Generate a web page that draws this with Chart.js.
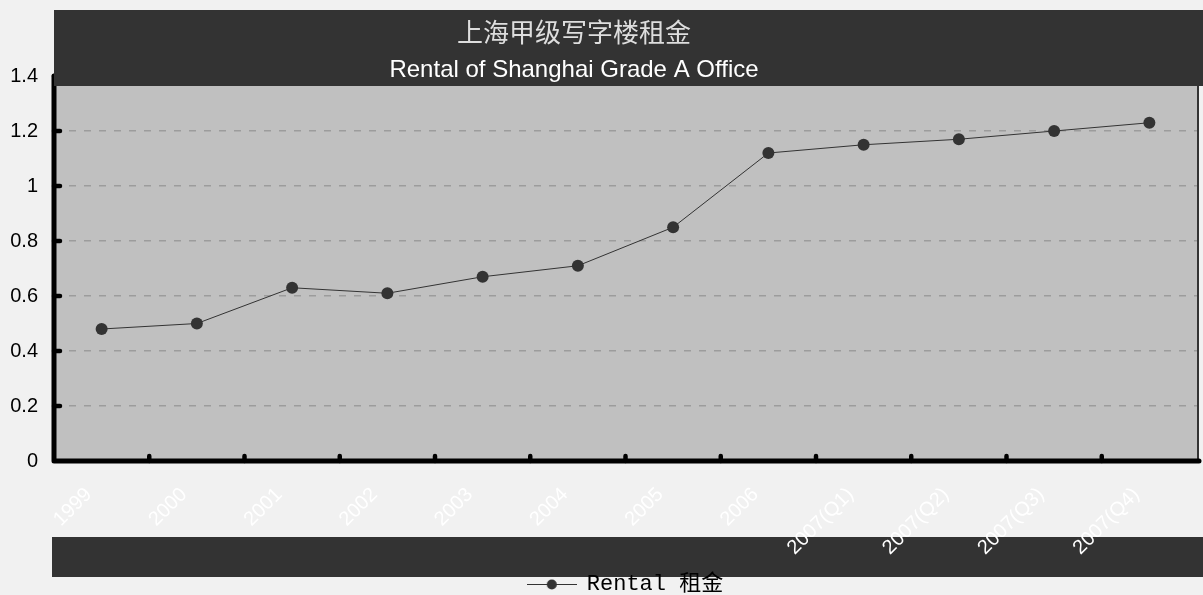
<!DOCTYPE html>
<html><head><meta charset="utf-8">
<script src="https://cdn.jsdelivr.net/npm/chart.js@4.4.1/dist/chart.umd.min.js"></script>
<style>html,body{margin:0;padding:0;background:#f1f1f1;}canvas{display:block;}</style>
</head><body>
<canvas id="c" width="1203" height="595"></canvas>
<script>
const categories = ['1999','2000','2001','2002','2003','2004','2005','2006','2007(Q1)','2007(Q2)','2007(Q3)','2007(Q4)'];
const rentalValues = [0.48, 0.50, 0.63, 0.61, 0.67, 0.71, 0.85, 1.12, 1.15, 1.17, 1.20, 1.23];
const yTickValues = [0, 0.2, 0.4, 0.6, 0.8, 1.0, 1.2, 1.4];
const titleZh = '上海甲级写字楼租金';
const titleEn = 'Rental of Shanghai Grade A Office';
const seriesLabel = 'Rental 租金';

function legendMarker() {
  const c = document.createElement('canvas');
  c.width = 50; c.height = 14;
  const g = c.getContext('2d');
  g.strokeStyle = '#333'; g.lineWidth = 1;
  g.beginPath(); g.moveTo(0, 7.5); g.lineTo(50, 7.5); g.stroke();
  g.fillStyle = '#333';
  g.beginPath(); g.arc(25, 7.5, 5, 0, Math.PI * 2); g.fill();
  return c;
}

const decor = {
  id: 'decor',
  beforeDraw(chart) {
    const {ctx, chartArea: a, width, height} = chart;
    ctx.save();
    ctx.fillStyle = '#f1f1f1'; ctx.fillRect(0, 0, width, height);
    ctx.fillStyle = '#c0c0c0'; ctx.fillRect(a.left, a.top, a.right - a.left, a.bottom - a.top);
    ctx.fillStyle = '#333333'; ctx.fillRect(a.left - 2, a.bottom + 76, width - a.left + 2, 40);
    ctx.restore();
  },
  beforeDatasetsDraw(chart) {
    const {ctx, chartArea: a, width, scales: {x, y}} = chart;
    ctx.save();
    ctx.strokeStyle = '#333'; ctx.lineWidth = 2;
    ctx.beginPath(); ctx.moveTo(a.right + 1, a.top); ctx.lineTo(a.right + 1, a.bottom); ctx.stroke();
    ctx.strokeStyle = '#000'; ctx.lineWidth = 5; ctx.lineJoin = 'round'; ctx.lineCap = 'round';
    ctx.beginPath(); ctx.moveTo(a.left, a.top); ctx.lineTo(a.left, a.bottom); ctx.lineTo(a.right + 2, a.bottom); ctx.stroke();
    ctx.lineWidth = 4.5;
    for (let i = 1; i < categories.length; i++) {
      const px = x.getPixelForValue(i - 0.5);
      ctx.beginPath(); ctx.moveTo(px, a.bottom); ctx.lineTo(px, a.bottom - 5); ctx.stroke();
    }
    for (const v of yTickValues) {
      if (v === 0) continue;
      const py = y.getPixelForValue(v);
      ctx.beginPath(); ctx.moveTo(a.left, py); ctx.lineTo(a.left + 6, py); ctx.stroke();
    }
    ctx.fillStyle = '#333333';
    ctx.fillRect(a.left, 10, width - a.left, a.top);
    const cx = 574;
    ctx.textAlign = 'center';
    ctx.fillStyle = '#dedede';
    ctx.font = "26px 'Noto Sans CJK SC'";
    ctx.textBaseline = 'middle';
    ctx.fillText(titleZh, cx, 32);
    ctx.fillStyle = '#ffffff';
    ctx.font = "24px 'Liberation Sans', Arial";
    ctx.textBaseline = 'alphabetic';
    ctx.fillText(titleEn, cx, 77);
    ctx.restore();
  }
};

new Chart(document.getElementById('c'), {
  type: 'line',
  data: {
    labels: categories,
    datasets: [{
      label: seriesLabel,
      data: rentalValues,
      borderColor: '#333333',
      backgroundColor: '#333333',
      borderWidth: 1,
      pointRadius: 6,
      pointHoverRadius: 6,
      pointBackgroundColor: '#333333',
      pointBorderColor: '#333333',
      pointBorderWidth: 0,
      tension: 0
    }]
  },
  options: {
    responsive: false,
    animation: false,
    devicePixelRatio: 1,
    events: [],
    layout: {padding: {top: 76, right: 2, bottom: -10, left: 0}},
    scales: {
      x: {
        offset: true,
        grid: {display: false, drawTicks: false},
        border: {display: false},
        ticks: {
          autoSkip: false, minRotation: 45, maxRotation: 45,
          padding: 22, labelOffset: -13,
          color: '#ffffff',
          font: {family: "'Liberation Sans', Arial", size: 20}
        },
        afterFit(s) { s.height = 102; s.paddingLeft = 0; s.paddingRight = 0; }
      },
      y: {
        min: 0, max: 1.4,
        grid: {color: '#9c9c9c', lineWidth: 1.5, drawTicks: false},
        border: {display: false, dash: [7, 8]},
        ticks: {
          stepSize: 0.2, padding: 16, color: '#000000',
          font: {family: "'Liberation Sans', Arial", size: 20},
          callback: (v) => String(Math.round(v * 10) / 10)
        },
        afterFit(s) { s.width = 54; s.paddingTop = 0; s.paddingBottom = 0; }
      }
    },
    plugins: {
      title: {display: false},
      tooltip: {enabled: false},
      legend: {
        position: 'bottom',
        fullSize: false,
        labels: {
          usePointStyle: true,
          pointStyle: legendMarker(),
          pointStyleWidth: 48,
          padding: 10,
          color: '#000000',
          font: {family: "'Liberation Mono', 'Noto Sans CJK SC', monospace", size: 22}
        }
      }
    }
  },
  plugins: [decor]
});
</script>
</body></html>
